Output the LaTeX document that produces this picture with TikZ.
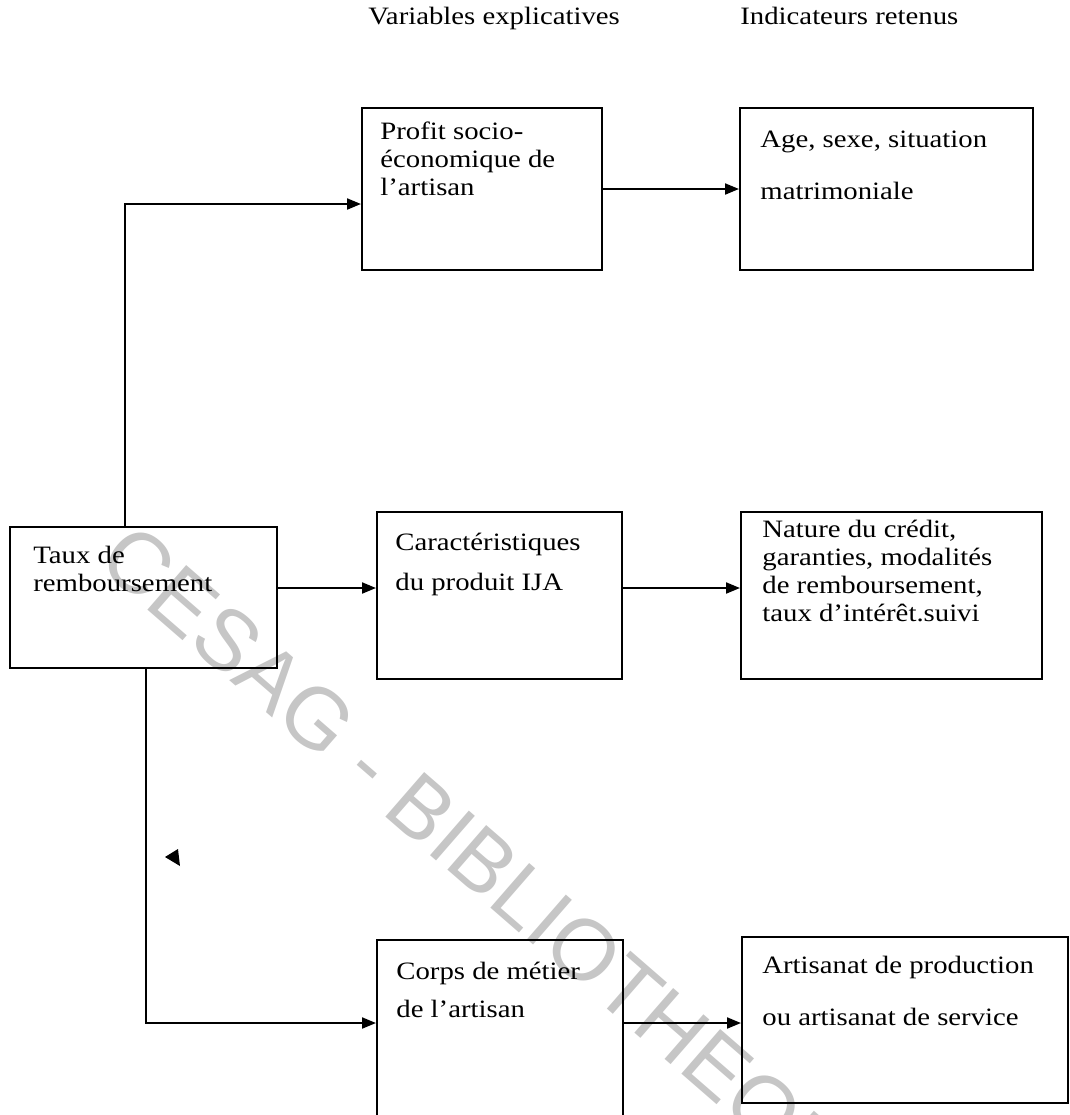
\documentclass[tikz,border=0pt]{standalone}
\usepackage{fontspec}
\setmainfont{Liberation Serif}[FakeStretch=1.15]
\newfontfamily\filigranefont{Liberation Sans}
\usetikzlibrary{arrows.meta,fit,calc}
\tikzset{
  cadre/.style={draw, line width=1pt, inner sep=0pt},
  texte/.style={anchor=base west, align=left, inner sep=0pt, font=\fontsize{12.5}{#1}\selectfont},
  texte/.default=14,
  fleche/.style={line width=1pt, -{Triangle[length=7pt,width=5.5pt]}},
  filig/.style={rotate=-41, text=gray!45, inner sep=0pt, font=\filigranefont\fontsize{43}{43}\selectfont},
}

\begin{document}
\begin{tikzpicture}[x=0.5pt, y=-0.5pt]
\useasboundingbox (0,0) rectangle (1070,1115);
\clip (0,0) rectangle (1070,1115);
% filigrane
\node[filig, anchor=west] (cesag) at (110,548) {CESAG - BIBLIOTHEQUE};
% titres des colonnes
\node[texte] (titre1) at (368,24) {Variables explicatives};
\node[texte] (titre2) at (740,24) {Indicateurs retenus};
% cadres
\node[cadre, fit={(10,527) (277,668)}] (taux) {};
\node[cadre, fit={(362,108) (602,270)}] (profit) {};
\node[cadre, fit={(740,108) (1033,270)}] (age) {};
\node[cadre, fit={(377,512) (622,679)}] (caract) {};
\node[cadre, fit={(741,512) (1042,679)}] (nature) {};
\node[cadre, fit={(377,940) (623,1130)}] (corps) {};
\node[cadre, fit={(742,937) (1068,1103)}] (artisanat) {};
% textes des cadres (ancre sur la derniere ligne)
\node[texte] (ttaux) at (33,591) {Taux de\\remboursement};
\node[texte] (tprofit) at (380,195) {Profit socio-\\économique de\\l’artisan};
\node[texte=26] (tage) at (760,199) {Age, sexe, situation\\matrimoniale};
\node[texte=20] (tcaract) at (395,590) {Caractéristiques\\du produit IJA};
\node[texte] (tnature) at (762,621) {Nature du crédit,\\garanties, modalités\\de remboursement,\\taux d’intérêt.suivi};
\node[texte=19] (tcorps) at (396,1017) {Corps de métier\\de l’artisan};
\node[texte=26] (tartisanat) at (762,1025) {Artisanat de production\\ou artisanat de service};
% liaisons
\coordinate (haut) at (125,204);
\coordinate (milieu) at (0,588);
\coordinate (bas) at (146,1023);
\draw[fleche] (taux.north -| haut) |- (profit.west |- haut);
\draw[fleche] (profit.east) -- (age.west);
\draw[fleche] (taux.east |- milieu) -- (caract.west |- milieu);
\draw[fleche] (caract.east |- milieu) -- (nature.west |- milieu);
\draw[fleche] (taux.south -| bas) |- (corps.west |- bas);
\draw[fleche] (corps.east |- bas) -- (artisanat.west |- bas);
% pointe isolee
\fill (165,857) -- (178,849) -- (180,866) -- cycle;
\end{tikzpicture}
\end{document}
